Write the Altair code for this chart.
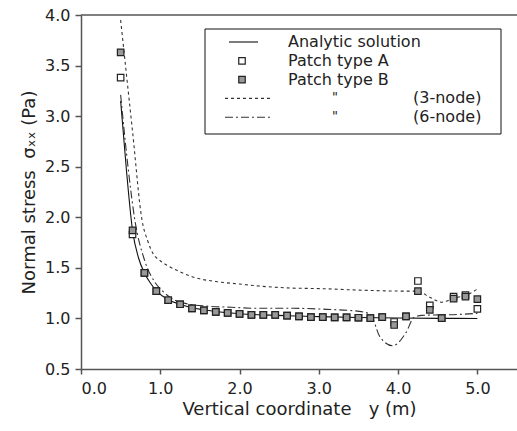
import altair as alt
import pandas as pd

# ---------------- data ----------------
marker_x = [0.5, 0.65, 0.8, 0.95, 1.1, 1.25, 1.4, 1.55, 1.7, 1.85, 2.0, 2.15, 2.3, 2.45,
            2.6, 2.75, 2.9, 3.05, 3.2, 3.35, 3.5, 3.65, 3.8, 3.95, 4.1, 4.25, 4.4, 4.55,
            4.7, 4.85, 5.0]
patch_a = [3.38, 1.83, 1.45, 1.27, 1.18, 1.14, 1.10, 1.08, 1.065, 1.055, 1.045, 1.035, 1.035, 1.035,
           1.027, 1.02, 1.013, 1.013, 1.01, 1.01, 1.007, 1.003, 1.013, 0.965, 1.02, 1.37, 1.13, 1.003,
           1.215, 1.23, 1.095]
patch_b = [3.63, 1.87, 1.45, 1.27, 1.18, 1.14, 1.10, 1.08, 1.065, 1.055, 1.045, 1.035, 1.035, 1.035,
           1.027, 1.02, 1.013, 1.013, 1.01, 1.01, 1.007, 1.003, 1.013, 0.935, 1.02, 1.27, 1.085, 1.003,
           1.195, 1.215, 1.19]

analytic_x = [0.5, 0.575, 0.65, 0.725, 0.8, 0.875, 0.95, 1.1, 1.25, 1.4, 1.55, 1.7, 1.85, 2.0,
              2.3, 2.6, 3.0, 3.5, 4.0, 4.5, 5.0]
analytic_y = [3.15, 2.45, 1.87, 1.60, 1.45, 1.35, 1.275, 1.185, 1.14, 1.105, 1.085, 1.068, 1.056, 1.046,
              1.035, 1.027, 1.018, 1.009, 1.004, 1.001, 1.0]

node3_x = [0.5, 0.65, 0.77, 0.84, 0.91, 1.0, 1.12, 1.25, 1.41, 1.75, 2.0, 2.25, 2.67, 3.0, 3.5,
           4.1, 4.24, 4.4, 4.55, 4.7, 4.86, 5.0]
node3_y = [3.95, 2.85, 1.97, 1.77, 1.64, 1.57, 1.51, 1.46, 1.41, 1.36, 1.34, 1.32, 1.30, 1.295, 1.28,
           1.27, 1.27, 1.21, 1.16, 1.20, 1.23, 1.29]

node6_x = [0.5, 0.6, 0.68, 0.8, 0.93, 1.03, 1.12, 1.37, 1.62, 1.9, 2.25, 2.67, 3.1, 3.51, 3.65,
           3.77, 3.93, 4.1, 4.2, 4.3, 4.77, 5.0]
node6_y = [3.21, 2.45, 1.97, 1.58, 1.36, 1.27, 1.21, 1.14, 1.12, 1.11, 1.10, 1.10, 1.09, 1.07, 1.04,
           0.82, 0.73, 0.86, 1.01, 1.03, 1.04, 1.05]

x_ticks = [0, 1, 2, 3, 4, 5]
y_ticks = [0.5, 1.0, 1.5, 2.0, 2.5, 3.0, 3.5, 4.0]

legend_labels = ["Analytic solution", "Patch type A", "Patch type B", "(3-node)", "(6-node)"]
ditto = "\""

# ---------------- chart ----------------
FONT = "DejaVu Sans"
AX = "#555555"
W, H = 436, 354

xaxis = alt.Axis(values=x_ticks, format=".1f", title="Vertical coordinate\u00a0\u00a0\u00a0y (m)",
                 grid=False, tickSize=5, labelPadding=6, titlePadding=4,
                 domainColor=AX, tickColor=AX, domainWidth=1.5, tickWidth=1.5,
                 labelFont=FONT, labelFontSize=16, labelColor="#222222",
                 titleFont=FONT, titleFontSize=18, titleFontWeight="normal", titleColor="#222222")
yaxis = alt.Axis(values=y_ticks, format=".1f", title="Normal stress\u00a0\u00a0σₓₓ (Pa)",
                 grid=False, tickSize=6, labelPadding=5, titlePadding=6,
                 domainColor=AX, tickColor=AX, domainWidth=1.5, tickWidth=1.5,
                 labelFont=FONT, labelFontSize=16, labelColor="#222222",
                 titleFont=FONT, titleFontSize=18, titleFontWeight="normal", titleColor="#222222")
xs = alt.Scale(domain=[0, 5.5], nice=False)
ys = alt.Scale(domain=[0.5, 4.0], nice=False)


def X(f):
    return alt.X(f, type="quantitative", scale=xs, axis=xaxis)


def Y(f):
    return alt.Y(f, type="quantitative", scale=ys, axis=yaxis)


df_an = pd.DataFrame({"x": analytic_x, "y": analytic_y})
df_3 = pd.DataFrame({"x": node3_x, "y": node3_y})
df_6 = pd.DataFrame({"x": node6_x, "y": node6_y})
df_a = pd.DataFrame({"x": marker_x, "y": patch_a})
df_b = pd.DataFrame({"x": marker_x, "y": patch_b})

analytic = alt.Chart(df_an).mark_line(color="#111111", strokeWidth=1.1, interpolate="monotone").encode(x=X("x"), y=Y("y"))
line3 = alt.Chart(df_3).mark_line(color="#333333", strokeWidth=1.1, strokeDash=[3, 3], interpolate="monotone").encode(x=X("x"), y=Y("y"))
line6 = alt.Chart(df_6).mark_line(color="#333333", strokeWidth=1.1, strokeDash=[8, 3, 2, 3], interpolate="monotone").encode(x=X("x"), y=Y("y"))
pts_a = alt.Chart(df_a).mark_square(size=42, fill="white", stroke="#222222", strokeWidth=1.2, opacity=1).encode(x=X("x"), y=Y("y"))
pts_b = alt.Chart(df_b).mark_square(size=42, fill="#999999", stroke="#222222", strokeWidth=1.2, opacity=1).encode(x=X("x"), y=Y("y"))

top_line = alt.Chart().mark_rule(color=AX, strokeWidth=1.5).encode(
    x=alt.value(0), x2=alt.value(W), y=alt.value(0))

# ---------------- legend (decoration, pixel placement) ----------------
lx0, lx1, ly0, ly1 = 124, 420, 14, 119
row0, step = 27, 18.8
rows = [row0 + i * step for i in range(5)]
sym_c = 161
text_x = 207
ditto_x = 254
paren_x = 332

leg_box = alt.Chart().mark_rect(fill="white", stroke="#111111", strokeWidth=1).encode(
    x=alt.value(lx0), x2=alt.value(lx1), y=alt.value(ly0), y2=alt.value(ly1))
leg_layers = [leg_box]
leg_layers.append(alt.Chart().mark_rule(color="#111111", strokeWidth=1.1).encode(
    x=alt.value(sym_c - 13), x2=alt.value(sym_c + 16), y=alt.value(rows[0])))
leg_layers.append(alt.Chart().mark_square(size=42, fill="white", stroke="#222222", strokeWidth=1.2, opacity=1).encode(
    x=alt.value(sym_c), y=alt.value(rows[1])))
leg_layers.append(alt.Chart().mark_square(size=42, fill="#999999", stroke="#222222", strokeWidth=1.2, opacity=1).encode(
    x=alt.value(sym_c), y=alt.value(rows[2])))
leg_layers.append(alt.Chart().mark_rule(color="#333333", strokeWidth=1.1, strokeDash=[3, 3]).encode(
    x=alt.value(sym_c - 17), x2=alt.value(sym_c + 28), y=alt.value(rows[3])))
leg_layers.append(alt.Chart().mark_rule(color="#333333", strokeWidth=1.1, strokeDash=[8, 3, 2, 3]).encode(
    x=alt.value(sym_c - 17), x2=alt.value(sym_c + 28), y=alt.value(rows[4])))
for i, lab in enumerate(legend_labels):
    if i < 3:
        leg_layers.append(alt.Chart().mark_text(align="left", baseline="middle", font=FONT, fontSize=16, color="#222222").encode(
            x=alt.value(text_x), y=alt.value(rows[i]), text=alt.value(lab)))
    else:
        leg_layers.append(alt.Chart().mark_text(align="center", baseline="middle", font=FONT, fontSize=13, color="#222222").encode(
            x=alt.value(ditto_x), y=alt.value(rows[i] - 1), text=alt.value(ditto)))
        leg_layers.append(alt.Chart().mark_text(align="left", baseline="middle", font=FONT, fontSize=16, color="#222222").encode(
            x=alt.value(paren_x), y=alt.value(rows[i]), text=alt.value(lab)))

chart = alt.layer(analytic, line3, line6, pts_a, pts_b, top_line, *leg_layers).properties(
    width=W, height=H,
    autosize=alt.AutoSizeParams(type="none"),
    padding={"left": 81, "top": 15, "right": 0, "bottom": 62},
    background="white",
).configure_view(strokeWidth=0)

chart.save("out.html", embed_options={"renderer": "svg", "actions": False})
